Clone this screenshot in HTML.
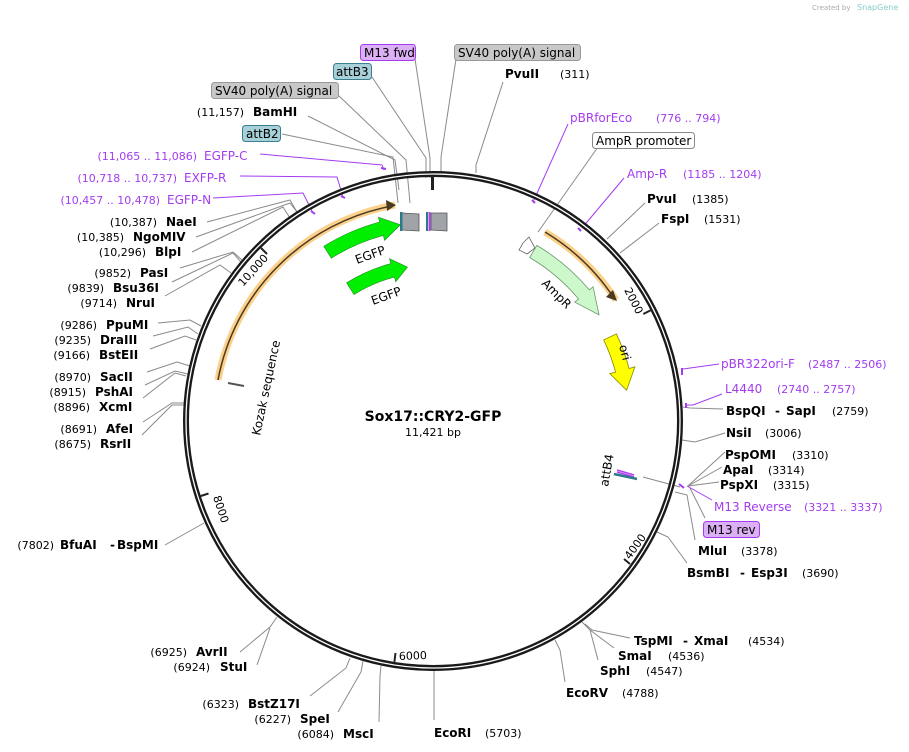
<!DOCTYPE html>
<html><head><meta charset="utf-8"><style>
html,body{margin:0;padding:0;background:#fff;}
svg{display:block;font-family:"DejaVu Sans","Liberation Sans",sans-serif;}
.e{font-weight:bold;font-size:12px;fill:#000;}
.n{font-size:11px;fill:#000;}
.p{font-size:12px;fill:#a33cf0;}
.pn{font-size:11px;fill:#a33cf0;}
.l{fill:none;stroke:#8a8a8a;stroke-width:1;}
.pl{fill:none;stroke:#a33cf0;stroke-width:1;}
.b{font-size:12px;fill:#000;}
</style></head><body>
<svg width="909" height="752" viewBox="0 0 909 752" xmlns="http://www.w3.org/2000/svg">
<text x="812" y="10" font-size="7" fill="#aaa">Created by</text>
<text x="857" y="10" font-size="8" fill="#8cc">SnapGene</text>

<!-- connector lines -->
<g class="l">
<polyline points="503,82 476,165 476,173"/>
<polyline points="456,59 441,157 441,176"/>
<polyline points="415,59 430,158 430,178"/>
<polyline points="372,77 426,158 426,178"/>
<polyline points="338,95 406,160 410,203"/>
<polyline points="308,116 395,160 399,190"/>
<polyline points="282,134 393,157 398,203"/>
<polyline points="207,222 290,200 297,212"/>
<polyline points="196,237 290,203 297,212"/>
<polyline points="192,252 283,207 290,218"/>
<polyline points="180,268 233,252 242,260"/>
<polyline points="172,282 233,253 241,262"/>
<polyline points="165,296 220,265 231,273"/>
<polyline points="158,323 190,320 201,326"/>
<polyline points="153,336 188,327 198,334"/>
<polyline points="150,349 185,336 196,340"/>
<polyline points="147,372 177,362 190,366"/>
<polyline points="145,385 175,371 188,374"/>
<polyline points="143,398 175,373 186,376"/>
<polyline points="143,422 172,403 184,403"/>
<polyline points="142,435 172,405 184,405"/>
<polyline points="165,545 204,523"/>
<polyline points="240,652 270,627 277,617"/>
<polyline points="257,665 270,628"/>
<polyline points="310,696 346,668 350,658"/>
<polyline points="338,712 361,672 363,661"/>
<polyline points="379,722 380,676 381,666"/>
<polyline points="434,720 434,669"/>
<polyline points="565,682 560,650 555,640"/>
<polyline points="598,660 590,630 582,622"/>
<polyline points="614,648 590,630"/>
<polyline points="630,638 592,630 585,624"/>
<polyline points="687,563 668,537 657,532"/>
<polyline points="695,540 687,495 675,492"/>
<polyline points="705,518 690,488"/>
<polyline points="725,452 688,486"/>
<polyline points="722,467 688,486"/>
<polyline points="719,482 688,486"/>
<polyline points="643,477 680,487"/>
<polyline points="725,433 695,442 682,440"/>
<polyline points="723,409 690,408 683,407"/>
<polyline points="645,203 607,239"/>
<polyline points="659,223 620,253"/>
<polyline points="598,147 538,232"/>
</g>
<g class="pl">
<polyline points="260,154 382,165 384,170"/>
<polyline points="240,176 337,177 343,197"/>
<polyline points="213,198 303,193 313,213"/>
<polyline points="568,124 534,200"/>
<polyline points="624,178 582,228"/>
<polyline points="719,364 683,369"/>
<polyline points="722,394 693,405 686,405"/>
<polyline points="712,500 687,486"/>
</g>
<g stroke="#a33cf0" stroke-width="2">
<line x1="381" y1="168" x2="386" y2="169"/><line x1="341" y1="196" x2="345" y2="198"/>
<line x1="311" y1="211" x2="315" y2="214"/><line x1="532" y1="200" x2="535" y2="203"/>
<line x1="578" y1="228" x2="581" y2="231"/><line x1="682" y1="368" x2="682" y2="375"/>
<line x1="686" y1="403" x2="686" y2="408"/><line x1="679" y1="484" x2="684" y2="488"/>
</g>

<!-- backbone -->
<circle cx="433" cy="421" r="247" fill="none" stroke="#1a1a1a" stroke-width="6"/>
<circle cx="433" cy="421" r="247" fill="none" stroke="#fff" stroke-width="1.3"/>
<rect x="431" y="176" width="3" height="14" fill="#222"/>

<!-- ticks -->
<g stroke="#222" stroke-width="2">
<line x1="650.5" y1="310.4" x2="643.3" y2="314"/>
<line x1="630" y1="564" x2="624" y2="559"/>
<line x1="394.4" y1="661.9" x2="395.5" y2="653"/>
<line x1="200.8" y1="496" x2="208.5" y2="493.5"/>
<line x1="261" y1="248" x2="267" y2="254"/>
</g>
<g font-size="11" fill="#000">
<text transform="translate(624,290) rotate(63)">2000</text>
<text transform="translate(630,560) rotate(-54)">4000</text>
<text transform="translate(399,660) rotate(-2)">6000</text>
<text transform="translate(213,497) rotate(72)">8000</text>
<text transform="translate(243,287) rotate(-48)">10,000</text>
</g>

<!-- orange arcs -->
<path d="M218,380 A218,218 0 0 1 395,205" fill="none" stroke="#fbc56f" stroke-width="7" stroke-opacity="0.8"/>
<path d="M218,380 A218,218 0 0 1 392,206" fill="none" stroke="#4a3a20" stroke-width="1.5"/>
<polygon points="396,205 386,200 387,211" fill="#4a3a20"/>
<path d="M545,232 A219,219 0 0 1 616,300" fill="none" stroke="#fbc56f" stroke-width="7" stroke-opacity="0.8"/>
<path d="M545,232 A219,219 0 0 1 614,298" fill="none" stroke="#4a3a20" stroke-width="1.5"/>
<polygon points="617,301 606,297 613,290" fill="#4a3a20"/>

<!-- features -->
<path d="M323.8,246.3 A206,206 0 0 1 379.7,222.0 L378.4,217.2 L400.5,224.7 L384.6,240.4 L383.3,235.5 A192,192 0 0 0 331.3,258.2 Z" fill="#00ee00" stroke="#2a8a2a" stroke-width="0.6"/>
<path d="M346.6,282.8 A163,163 0 0 1 390.8,263.6 L389.5,258.7 L407.5,267.1 L395.7,281.9 L394.4,277.1 A149,149 0 0 0 354.0,294.6 Z" fill="#00ee00" stroke="#2a8a2a" stroke-width="0.6"/>
<text transform="translate(357,264) rotate(-20)" font-size="12">EGFP</text>
<text transform="translate(373,305) rotate(-20)" font-size="12">EGFP</text>
<path d="M536.8,245.4 A204,204 0 0 1 589.3,289.9 L593.1,286.7 L599.0,314.9 L574.7,302.1 L578.5,298.9 A190,190 0 0 0 529.7,257.5 Z" fill="#ccf8cc" stroke="#6a9a6a" stroke-width="0.8"/>
<polygon points="523,243 529,237 535,248 527,254 519,250" fill="#fff" stroke="#666" stroke-width="0.8"/>
<text transform="translate(541,284) rotate(45)" font-size="12">AmpR</text>
<path d="M616.4,333.9 A203,203 0 0 1 629.1,368.5 L634.9,366.9 L626.6,390.3 L609.8,373.6 L615.6,372.1 A189,189 0 0 0 603.7,339.9 Z" fill="#ffff00" stroke="#888800" stroke-width="0.8"/>
<text transform="translate(619,346) rotate(75)" font-size="12">ori</text>

<polygon points="402,213 419,214 419,231 402,230" fill="#a0a4a8" stroke="#555" stroke-width="0.8"/>
<rect x="400" y="212" width="2.5" height="19" fill="#2a7a8a"/>
<polygon points="431,213 447,213 447,231 431,230" fill="#a0a4a8" stroke="#555" stroke-width="0.8"/>
<rect x="426" y="212" width="2" height="19" fill="#2a7a8a"/>
<rect x="428.5" y="212" width="2" height="19" fill="#b040f0"/>

<line x1="228" y1="383" x2="244" y2="386" stroke="#555" stroke-width="2"/>
<text transform="translate(260,436) rotate(-78)" font-size="12">Kozak sequence</text>
<g stroke-width="1.5"><line x1="617" y1="470" x2="634" y2="475" stroke="#b040f0"/><line x1="617" y1="472" x2="634" y2="477" stroke="#b040f0"/><line x1="614" y1="474" x2="637" y2="479" stroke="#2a7a8a" stroke-width="2.5"/></g>
<text transform="translate(608,487) rotate(-80)" font-size="12">attB4</text>

<!-- center -->
<text x="433" y="421" text-anchor="middle" font-weight="bold" font-size="14">Sox17::CRY2-GFP</text>
<text x="433" y="436" text-anchor="middle" font-size="11">11,421 bp</text>

<!-- top boxes -->
<rect x="360.5" y="44.5" width="55" height="16" rx="3" fill="#dcb0f5" stroke="#a33cf0"/>
<text x="364" y="57" class="b">M13 fwd</text>
<rect x="454.5" y="44.5" width="126" height="16" rx="3" fill="#c8c8c8" stroke="#999"/>
<text x="458" y="57" class="b">SV40 poly(A) signal</text>
<rect x="333.5" y="63.5" width="38" height="16" rx="3" fill="#a8d0d8" stroke="#3a8090"/>
<text x="336" y="76" class="b">attB3</text>
<rect x="211.5" y="82.5" width="127" height="16" rx="3" fill="#c8c8c8" stroke="#999"/>
<text x="215" y="95" class="b">SV40 poly(A) signal</text>
<rect x="242.5" y="125.5" width="38" height="16" rx="3" fill="#a8d0d8" stroke="#3a8090"/>
<text x="246" y="138" class="b">attB2</text>
<rect x="592.5" y="132.5" width="102" height="16" rx="3" fill="#fff" stroke="#888"/>
<text x="596" y="145" class="b">AmpR promoter</text>
<rect x="703.5" y="521.5" width="56" height="16" rx="3" fill="#dcb0f5" stroke="#a33cf0"/>
<text x="707" y="534" class="b">M13 rev</text>

<!-- left labels -->
<g text-anchor="end" class="n">
<text x="244" y="116">(11,157)</text>
<text x="157" y="226">(10,387)</text>
<text x="124" y="241">(10,385)</text>
<text x="146" y="256">(10,296)</text>
<text x="131" y="277">(9852)</text>
<text x="104" y="292">(9839)</text>
<text x="117" y="307">(9714)</text>
<text x="97" y="329">(9286)</text>
<text x="91" y="344">(9235)</text>
<text x="90" y="359">(9166)</text>
<text x="91" y="381">(8970)</text>
<text x="86" y="396">(8915)</text>
<text x="90" y="411">(8896)</text>
<text x="97" y="433">(8691)</text>
<text x="91" y="448">(8675)</text>
<text x="54" y="549">(7802)</text>
<text x="187" y="656">(6925)</text>
<text x="210" y="671">(6924)</text>
<text x="239" y="708">(6323)</text>
<text x="291" y="723">(6227)</text>
<text x="334" y="738">(6084)</text>
</g>
<g class="e">
<text x="253" y="116">BamHI</text>
<text x="166" y="226">NaeI</text>
<text x="133" y="241">NgoMIV</text>
<text x="155" y="256">BlpI</text>
<text x="140" y="277">PasI</text>
<text x="113" y="292">Bsu36I</text>
<text x="126" y="307">NruI</text>
<text x="106" y="329">PpuMI</text>
<text x="100" y="344">DraIII</text>
<text x="99" y="359">BstEII</text>
<text x="100" y="381">SacII</text>
<text x="95" y="396">PshAI</text>
<text x="99" y="411">XcmI</text>
<text x="106" y="433">AfeI</text>
<text x="100" y="448">RsrII</text>
<text x="60" y="549">BfuAI</text><text x="110" y="549">-</text><text x="117" y="549">BspMI</text>
<text x="196" y="656">AvrII</text>
<text x="220" y="671">StuI</text>
<text x="248" y="708">BstZ17I</text>
<text x="300" y="723">SpeI</text>
<text x="343" y="738">MscI</text>
<text x="434" y="737">EcoRI</text>
<text x="505" y="78">PvuII</text>
<text x="647" y="203">PvuI</text>
<text x="661" y="223">FspI</text>
<text x="726" y="415">BspQI</text><text x="775" y="415">-</text><text x="786" y="415">SapI</text>
<text x="726" y="437">NsiI</text>
<text x="725" y="459">PspOMI</text>
<text x="723" y="474">ApaI</text>
<text x="720" y="489">PspXI</text>
<text x="698" y="555">MluI</text>
<text x="687" y="577">BsmBI</text><text x="740" y="577">-</text><text x="751" y="577">Esp3I</text>
<text x="634" y="645">TspMI</text><text x="683" y="645">-</text><text x="694" y="645">XmaI</text>
<text x="618" y="660">SmaI</text>
<text x="600" y="675">SphI</text>
<text x="566" y="697">EcoRV</text>
</g>
<g class="n">
<text x="485" y="737">(5703)</text>
<text x="560" y="78">(311)</text>
<text x="692" y="203">(1385)</text>
<text x="704" y="223">(1531)</text>
<text x="832" y="415">(2759)</text>
<text x="765" y="437">(3006)</text>
<text x="792" y="459">(3310)</text>
<text x="768" y="474">(3314)</text>
<text x="773" y="489">(3315)</text>
<text x="741" y="555">(3378)</text>
<text x="802" y="577">(3690)</text>
<text x="748" y="645">(4534)</text>
<text x="668" y="660">(4536)</text>
<text x="646" y="675">(4547)</text>
<text x="622" y="697">(4788)</text>
</g>
<!-- purple primers -->
<g class="pn" text-anchor="end">
<text x="197" y="160">(11,065 .. 11,086)</text>
<text x="177" y="182">(10,718 .. 10,737)</text>
<text x="160" y="204">(10,457 .. 10,478)</text>
</g>
<g class="p">
<text x="204" y="160">EGFP-C</text>
<text x="184" y="182">EXFP-R</text>
<text x="167" y="204">EGFP-N</text>
<text x="570" y="122">pBRforEco</text>
<text x="627" y="178">Amp-R</text>
<text x="721" y="368">pBR322ori-F</text>
<text x="725" y="393">L4440</text>
<text x="714" y="511">M13 Reverse</text>
</g>
<g class="pn">
<text x="656" y="122">(776 .. 794)</text>
<text x="683" y="178">(1185 .. 1204)</text>
<text x="808" y="368">(2487 .. 2506)</text>
<text x="777" y="393">(2740 .. 2757)</text>
<text x="804" y="511">(3321 .. 3337)</text>
</g>
</svg>
</body></html>
